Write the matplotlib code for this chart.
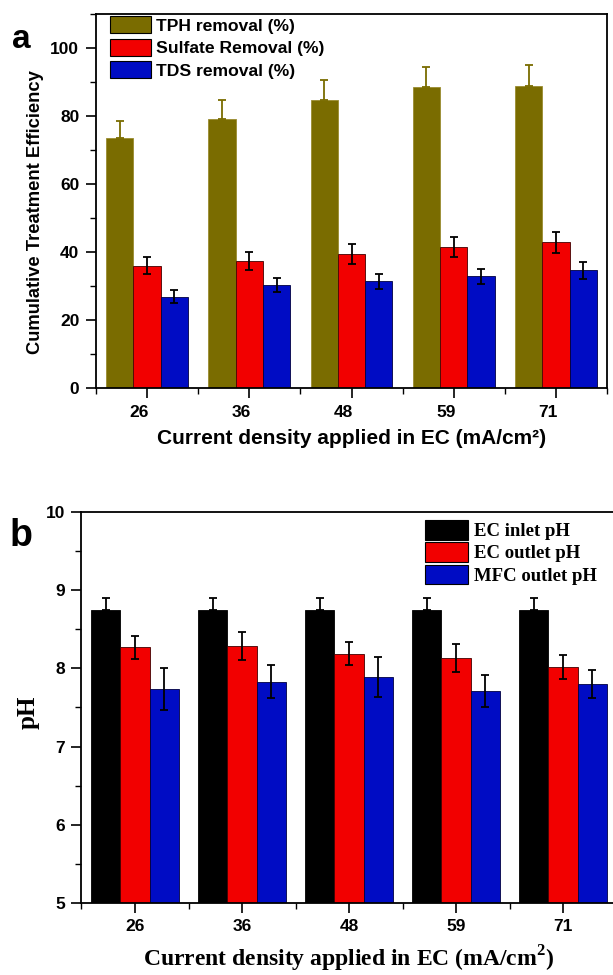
import numpy as np
import matplotlib
matplotlib.use("Agg")
from matplotlib import pyplot as plt
from matplotlib import transforms
from matplotlib.ticker import MultipleLocator, FixedLocator

# current density groups (mA/cm2)
densities = ["26", "36", "48", "59", "71"]

# panel a: cumulative treatment efficiency (%)
tph_removal = [73.6, 79.1, 84.8, 88.4, 88.9]
tph_err = [4.9, 5.5, 5.7, 6.1, 6.2]
sulfate_removal = [36.0, 37.4, 39.4, 41.4, 42.9]
sulfate_err = [2.55, 2.6, 2.85, 3.0, 3.05]
tds_removal = [26.9, 30.2, 31.4, 32.8, 34.6]
tds_err = [1.95, 2.1, 2.2, 2.3, 2.4]

# panel b: pH
ec_inlet_ph = [8.75, 8.75, 8.75, 8.75, 8.75]
ec_inlet_err = [0.15, 0.15, 0.15, 0.15, 0.15]
ec_outlet_ph = [8.27, 8.29, 8.19, 8.13, 8.02]
ec_outlet_err = [0.15, 0.18, 0.145, 0.18, 0.155]
mfc_outlet_ph = [7.74, 7.83, 7.89, 7.71, 7.80]
mfc_outlet_err = [0.27, 0.21, 0.26, 0.2, 0.18]

OLIVE = "#7A6C00"
RED = "#F20000"
BLUE = "#000CC4"

plt.rcParams["mathtext.fontset"] = "custom"
plt.rcParams["mathtext.bf"] = "Liberation Serif:bold"
plt.rcParams["mathtext.rm"] = "Liberation Serif:bold"

W, H = 613, 975
fig = plt.figure(figsize=(W / 100, H / 100), dpi=100)


def px_axes(left, top, right, bottom):
    return fig.add_axes([left / W, 1 - bottom / H, (right - left) / W, (bottom - top) / H])


def style_axes(ax, size):
    ax.tick_params(which="major", direction="out", length=7, width=1.2, pad=5)
    ax.tick_params(which="minor", direction="out", length=4, width=1.0)
    ax.tick_params(top=False, right=False)
    for s in ax.spines.values():
        s.set_linewidth(1.3)
    for lab in ax.get_xticklabels() + ax.get_yticklabels():
        lab.set_fontfamily("Liberation Sans")
        lab.set_fontweight("bold")
        lab.set_fontsize(size)


x = np.arange(1, len(densities) + 1)
err_kw = dict(ecolor="black", elinewidth=1.3, capsize=3, capthick=1.3)

# ---------------- panel a ----------------
ax1 = px_axes(96, 14, 607, 388)
bw = 0.267
ax1.bar(x - bw, tph_removal, bw, color=OLIVE, edgecolor="#9A8C30", linewidth=0.6,
        yerr=[np.zeros(5), tph_err],
        error_kw=dict(ecolor=OLIVE, elinewidth=1.3, capsize=3, capthick=1.3),
        label="TPH removal (%)")
ax1.bar(x, sulfate_removal, bw, color=RED, edgecolor="#400000", linewidth=0.6,
        yerr=sulfate_err, error_kw=err_kw, label="Sulfate Removal (%)")
ax1.bar(x + bw, tds_removal, bw, color=BLUE, edgecolor="#000040", linewidth=0.6,
        yerr=tds_err, error_kw=err_kw, label="TDS removal (%)")
ax1.set_xlim(0.5, 5.5)
ax1.set_ylim(0, 110)
ax1.set_xticks(x)
ax1.set_xticklabels(densities)
ax1.xaxis.set_minor_locator(FixedLocator(np.arange(0.5, 6, 1.0)))
ax1.yaxis.set_major_locator(MultipleLocator(20))
ax1.yaxis.set_minor_locator(MultipleLocator(10))
style_axes(ax1, 12.5)
# tick labels sit a little left of their ticks in the original
shift = transforms.ScaledTranslation(-8 / 100, 0, fig.dpi_scale_trans)
for lab in ax1.get_xticklabels():
    lab.set_transform(lab.get_transform() + shift)
fig.text(36 / W, 1 - 212 / H, "Cumulative Treatment Efficiency", family="Liberation Sans",
         fontweight="bold", fontsize=13.2, rotation=90, ha="center", va="center")
ax1.set_xlabel("Current density applied in EC (mA/cm²)", family="Liberation Sans",
               fontweight="bold", fontsize=15, labelpad=7)
leg1 = ax1.legend(loc="upper left", bbox_to_anchor=(14 / 511, 1 - 2 / 374), frameon=False,
                  prop=dict(family="Liberation Sans", weight="bold", size=12.6),
                  handlelength=2.35, handleheight=1.15, labelspacing=0.28,
                  handletextpad=0.3, borderpad=0, borderaxespad=0)
for p in leg1.get_patches():
    p.set_edgecolor("black")
    p.set_linewidth(0.8)
fig.text(12 / W, 1 - 40 / H, "a", family="Liberation Sans", fontweight="bold",
         fontsize=24, va="center", ha="left")

# ---------------- panel b ----------------
ax2 = px_axes(81.5, 512.3, 616.5, 902.7)
bw2 = 0.272
ax2.bar(x - bw2, ec_inlet_ph, bw2, color="black", edgecolor="black", linewidth=0.6,
        yerr=[np.zeros(5), ec_inlet_err], error_kw=err_kw, label="EC inlet pH")
ax2.bar(x, ec_outlet_ph, bw2, color=RED, edgecolor="#400000", linewidth=0.6,
        yerr=ec_outlet_err, error_kw=err_kw, label="EC outlet pH")
ax2.bar(x + bw2, mfc_outlet_ph, bw2, color=BLUE, edgecolor="#000040", linewidth=0.6,
        yerr=mfc_outlet_err, error_kw=err_kw, label="MFC outlet pH")
ax2.set_xlim(0.5, 5.5)
ax2.set_ylim(5, 10)
ax2.set_xticks(x)
ax2.set_xticklabels(densities)
ax2.xaxis.set_minor_locator(FixedLocator(np.arange(0.5, 6, 1.0)))
ax2.yaxis.set_major_locator(MultipleLocator(1))
ax2.yaxis.set_minor_locator(MultipleLocator(0.5))
style_axes(ax2, 12.5)
ax2.spines["right"].set_visible(False)
fig.text(28 / W, 1 - 712 / H, "pH", family="Liberation Serif", fontweight="bold",
         fontsize=18, rotation=90, ha="center", va="center")
ax2.set_xlabel(r"Current density applied in EC (mA/cm$^{\mathbf{2}}$)", family="Liberation Serif",
               fontweight="bold", fontsize=17, labelpad=7)
leg2 = ax2.legend(loc="upper left", bbox_to_anchor=((425 - 81.5) / 535, 1 - 8 / 390.4), frameon=False,
                  prop=dict(family="Liberation Serif", weight="bold", size=13.5),
                  handlelength=2.3, handleheight=1.2, labelspacing=0.12,
                  handletextpad=0.3, borderpad=0, borderaxespad=0)
for p in leg2.get_patches():
    p.set_edgecolor("black")
    p.set_linewidth(0.8)
fig.text(10 / W, 1 - 536 / H, "b", family="Liberation Sans", fontweight="bold",
         fontsize=27, va="center", ha="left")

fig.savefig("out.png", dpi=100)
